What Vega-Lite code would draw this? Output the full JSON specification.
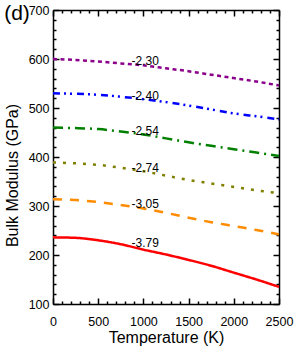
{
  "$schema": "https://vega.github.io/schema/vega-lite/v6.json",
  "width": 226,
  "height": 294,
  "autosize": {"type": "none"},
  "padding": {"left": 53, "top": 10, "right": 21, "bottom": 46},
  "title": {"text": "(d)", "anchor": "start", "frame": "bounds", "fontSize": 21, "fontWeight": "normal", "font": "Liberation Sans", "baseline": "top", "offset": 0, "dx": 0, "dy": 20, "color": "black"},
  "config": {
    "view": {"stroke": null},
    "font": "Liberation Sans",
    "axis": {"domainColor": "black", "domainWidth": 1.5, "tickColor": "black", "tickWidth": 1.5, "grid": false, "labelFlush": false, "labelFont": "Liberation Sans", "labelFontSize": 12.5, "labelColor": "black", "titleFont": "Liberation Sans", "titleFontSize": 16, "titleFontWeight": "normal", "titleColor": "black"}
  },
  "datasets": {
    "curves": [
      {"T": 0, "B": 600, "s": "a"}, {"T": 250, "B": 598, "s": "a"}, {"T": 500, "B": 595, "s": "a"}, {"T": 750, "B": 591, "s": "a"}, {"T": 1000, "B": 587, "s": "a"}, {"T": 1250, "B": 581, "s": "a"}, {"T": 1500, "B": 575, "s": "a"}, {"T": 1750, "B": 568, "s": "a"}, {"T": 2000, "B": 561, "s": "a"}, {"T": 2250, "B": 554, "s": "a"}, {"T": 2500, "B": 546, "s": "a"},
      {"T": 0, "B": 530, "s": "b"}, {"T": 250, "B": 529, "s": "b"}, {"T": 500, "B": 527, "s": "b"}, {"T": 750, "B": 523, "s": "b"}, {"T": 1000, "B": 518, "s": "b"}, {"T": 1250, "B": 512, "s": "b"}, {"T": 1500, "B": 505, "s": "b"}, {"T": 1750, "B": 497, "s": "b"}, {"T": 2000, "B": 489, "s": "b"}, {"T": 2250, "B": 483, "s": "b"}, {"T": 2500, "B": 477, "s": "b"},
      {"T": 0, "B": 460, "s": "c"}, {"T": 250, "B": 459, "s": "c"}, {"T": 500, "B": 457, "s": "c"}, {"T": 750, "B": 452, "s": "c"}, {"T": 1000, "B": 446, "s": "c"}, {"T": 1250, "B": 438, "s": "c"}, {"T": 1500, "B": 430, "s": "c"}, {"T": 1750, "B": 423, "s": "c"}, {"T": 2000, "B": 416, "s": "c"}, {"T": 2250, "B": 409, "s": "c"}, {"T": 2500, "B": 402, "s": "c"},
      {"T": 0, "B": 389, "s": "d"}, {"T": 250, "B": 387, "s": "d"}, {"T": 500, "B": 384, "s": "d"}, {"T": 750, "B": 378, "s": "d"}, {"T": 1000, "B": 371, "s": "d"}, {"T": 1250, "B": 362, "s": "d"}, {"T": 1500, "B": 353, "s": "d"}, {"T": 1750, "B": 346, "s": "d"}, {"T": 2000, "B": 339, "s": "d"}, {"T": 2250, "B": 332, "s": "d"}, {"T": 2500, "B": 326, "s": "d"},
      {"T": 0, "B": 314, "s": "e"}, {"T": 250, "B": 312, "s": "e"}, {"T": 500, "B": 308, "s": "e"}, {"T": 750, "B": 302, "s": "e"}, {"T": 1000, "B": 295, "s": "e"}, {"T": 1250, "B": 286, "s": "e"}, {"T": 1500, "B": 276, "s": "e"}, {"T": 1750, "B": 267, "s": "e"}, {"T": 2000, "B": 259, "s": "e"}, {"T": 2250, "B": 251, "s": "e"}, {"T": 2500, "B": 242, "s": "e"},
      {"T": 0, "B": 236, "s": "f"}, {"T": 250, "B": 235, "s": "f"}, {"T": 500, "B": 230, "s": "f"}, {"T": 750, "B": 222, "s": "f"}, {"T": 1000, "B": 211, "s": "f"}, {"T": 1250, "B": 201, "s": "f"}, {"T": 1500, "B": 190, "s": "f"}, {"T": 1750, "B": 178, "s": "f"}, {"T": 2000, "B": 164, "s": "f"}, {"T": 2250, "B": 150, "s": "f"}, {"T": 2500, "B": 135, "s": "f"}
    ],
    "labels": [
      {"T": 1020, "B": 596, "t": "-2.30"},
      {"T": 1020, "B": 524, "t": "-2.40"},
      {"T": 1020, "B": 453, "t": "-2.54"},
      {"T": 1020, "B": 377, "t": "-2.74"},
      {"T": 1020, "B": 304, "t": "-3.05"},
      {"T": 1020, "B": 224, "t": "-3.79"}
    ]
  },
  "layer": [
    {
      "data": {"name": "curves"},
      "mark": {"type": "line", "strokeWidth": 2.5, "interpolate": "monotone"},
      "encoding": {
        "x": {"field": "T", "type": "quantitative", "scale": {"domain": [0, 2500], "nice": false},
          "axis": {"orient": "bottom", "title": "Temperature (K)", "format": "d", "values": [0,100,200,300,400,500,600,700,800,900,1000,1100,1200,1300,1400,1500,1600,1700,1800,1900,2000,2100,2200,2300,2400,2500],
            "labelExpr": "datum.value % 500 === 0 ? datum.label : ''",
            "tickSize": {"condition": {"test": "datum.value % 500 === 0", "value": -6}, "value": -3},
            "labelPadding": 17, "titlePadding": 2}},
        "y": {"field": "B", "type": "quantitative", "scale": {"domain": [100, 700], "nice": false},
          "axis": {"orient": "left", "title": "Bulk Modulus (GPa)", "format": "d", "values": [100,120,140,160,180,200,220,240,260,280,300,320,340,360,380,400,420,440,460,480,500,520,540,560,580,600,620,640,660,680,700],
            "labelExpr": "datum.value % 100 === 0 ? datum.label : ''",
            "tickSize": {"condition": {"test": "datum.value % 100 === 0", "value": -6}, "value": -3},
            "labelPadding": 10, "titlePadding": 8, "titleY": 165}},
        "color": {"field": "s", "type": "nominal", "legend": null, "scale": {"domain": ["a","b","c","d","e","f"], "range": ["#8b008b", "#0000ff", "#008000", "#808000", "#ff8c00", "#ff0000"]}},
        "strokeDash": {"field": "s", "type": "nominal", "legend": null, "scale": {"domain": ["a","b","c","d","e","f"], "range": [[4,3.5],[7,4,2,4,2,5],[10,5,2,5],[3,7],[9,8],[1,0]]}}
      }
    },
    {
      "data": {"name": "labels"},
      "mark": {"type": "text", "fontSize": 12, "font": "Liberation Sans", "color": "black", "align": "center", "baseline": "middle"},
      "encoding": {
        "x": {"field": "T", "type": "quantitative", "axis": null},
        "y": {"field": "B", "type": "quantitative", "axis": null},
        "text": {"field": "t"}
      }
    },
    {
      "data": {"name": "labels"},
      "mark": {"type": "point", "opacity": 0},
      "encoding": {
        "x": {"field": "T", "type": "quantitative",
          "axis": {"orient": "top", "title": null, "labels": false, "values": [0,100,200,300,400,500,600,700,800,900,1000,1100,1200,1300,1400,1500,1600,1700,1800,1900,2000,2100,2200,2300,2400,2500],
            "tickSize": {"condition": {"test": "datum.value % 500 === 0", "value": -6}, "value": -3}}},
        "y": {"field": "B", "type": "quantitative",
          "axis": {"orient": "right", "title": null, "labels": false, "values": [100,120,140,160,180,200,220,240,260,280,300,320,340,360,380,400,420,440,460,480,500,520,540,560,580,600,620,640,660,680,700],
            "tickSize": {"condition": {"test": "datum.value % 100 === 0", "value": -6}, "value": -3}}}
      }
    }
  ],
  "resolve": {"axis": {"x": "independent", "y": "independent"}}
}
